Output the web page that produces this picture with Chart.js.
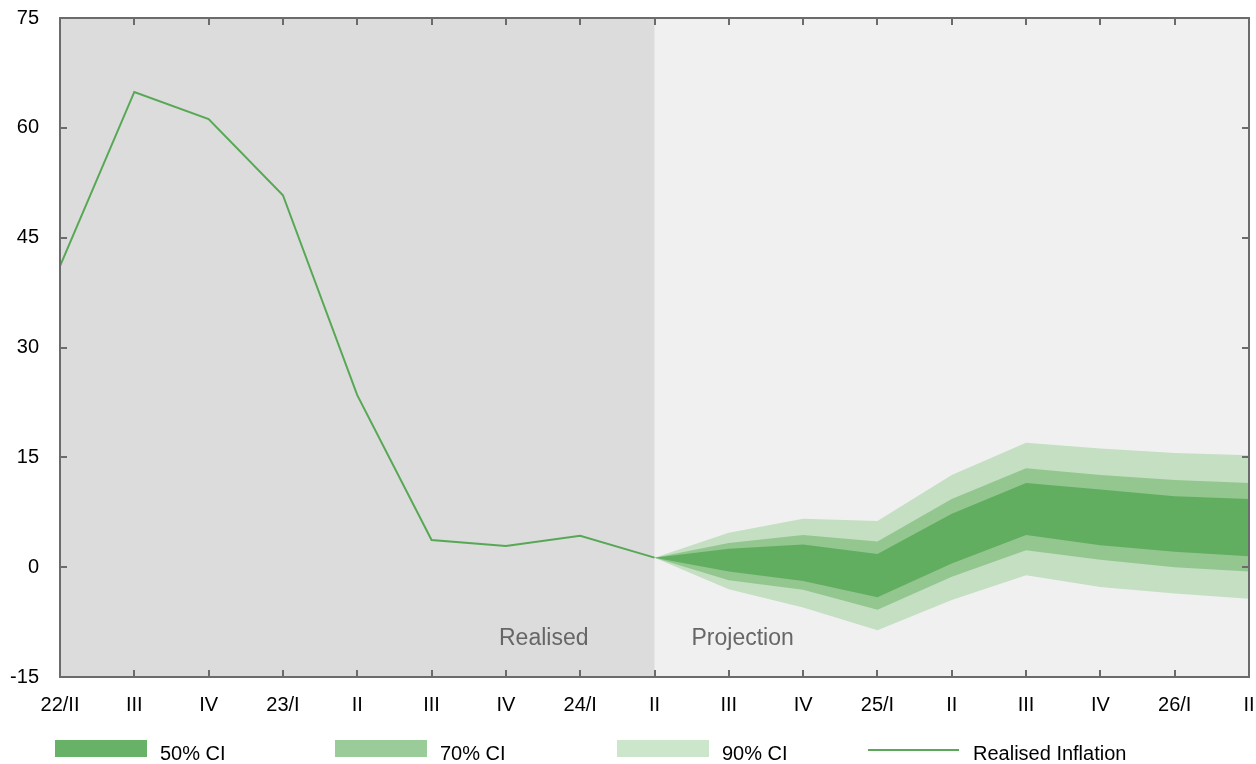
<!DOCTYPE html>
<html>
<head>
<meta charset="utf-8">
<script src="https://cdn.jsdelivr.net/npm/chart.js@4/dist/chart.umd.min.js"></script>
<style>
  html, body { margin: 0; padding: 0; background: #ffffff; }
  #wrap { position: relative; width: 1256px; height: 764px; font-family: "Liberation Sans", Arial, sans-serif; }
  canvas { position: absolute; left: 0; top: 0; }
  .lg { position: absolute; top: 740px; height: 17px; }
  .lt { position: absolute; top: 741px; font-size: 20px; line-height: 24px; color: #000; white-space: nowrap; }
</style>
</head>
<body>
<div id="wrap">
  <canvas id="c" width="1256" height="764"></canvas>
  <div class="lg" style="left:55px;width:92px;background:#67b267;"></div>
  <div class="lt" style="left:160px;">50% CI</div>
  <div class="lg" style="left:335px;width:92px;background:#99cc99;"></div>
  <div class="lt" style="left:440px;">70% CI</div>
  <div class="lg" style="left:617px;width:92px;background:#cce6cc;"></div>
  <div class="lt" style="left:722px;">90% CI</div>
  <div class="lg" style="left:868px;width:91px;top:749px;height:2px;background:#5aa858;"></div>
  <div class="lt" style="left:973px;">Realised Inflation</div>
</div>
<script>
const categories = ["22/II","III","IV","23/I","II","III","IV","24/I","II","III","IV","25/I","II","III","IV","26/I","II"];
const yTicks = [-15, 0, 15, 30, 45, 60, 75];
const realised = [41.1, 64.9, 61.2, 50.8, 23.5, 3.7, 2.9, 4.3, 1.3, null, null, null, null, null, null, null, null];
const upper90 = [null, null, null, null, null, null, null, null, 1.3, 4.7, 6.6, 6.3, 12.6, 17.0, 16.2, 15.6, 15.3];
const upper70 = [null, null, null, null, null, null, null, null, 1.3, 3.3, 4.4, 3.5, 9.3, 13.5, 12.6, 11.9, 11.5];
const upper50 = [null, null, null, null, null, null, null, null, 1.3, 2.5, 3.1, 1.8, 7.3, 11.5, 10.6, 9.7, 9.3];
const lower50 = [null, null, null, null, null, null, null, null, 1.3, -0.6, -1.9, -4.1, 0.5, 4.4, 3.0, 2.1, 1.5];
const lower70 = [null, null, null, null, null, null, null, null, 1.3, -1.8, -3.1, -5.8, -1.3, 2.3, 1.0, 0.0, -0.6];
const lower90 = [null, null, null, null, null, null, null, null, 1.3, -3.0, -5.5, -8.6, -4.5, -1.1, -2.7, -3.6, -4.3];
const splitIndex = 8;

const FONT = "'Liberation Sans', Arial, sans-serif";

const framePlugin = {
  id: 'frame',
  beforeDatasetsDraw(chart) {
    const {ctx, chartArea: a, scales: {x}} = chart;
    const sx = x.getPixelForValue(splitIndex);
    ctx.save();
    ctx.fillStyle = '#f0f0f0';
    ctx.fillRect(a.left, a.top, a.right - a.left, a.bottom - a.top);
    ctx.fillStyle = '#dcdcdc';
    ctx.fillRect(a.left, a.top, sx - a.left, a.bottom - a.top);
    ctx.fillStyle = '#666666';
    ctx.font = "23px " + FONT;
    ctx.textBaseline = 'middle';
    ctx.textAlign = 'right';
    ctx.fillText('Realised', sx - 66, a.bottom - 38);
    ctx.textAlign = 'left';
    ctx.fillText('Projection', sx + 37, a.bottom - 38);
    ctx.restore();
  },
  afterDatasetsDraw(chart) {
    const {ctx, chartArea: a, scales: {x, y}} = chart;
    ctx.save();
    ctx.strokeStyle = '#6b6b6b';
    ctx.lineWidth = 2;
    ctx.beginPath();
    x.ticks.forEach((t, i) => {
      const px = Math.round(x.getPixelForTick(i));
      ctx.moveTo(px, a.bottom); ctx.lineTo(px, a.bottom - 7);
      ctx.moveTo(px, a.top); ctx.lineTo(px, a.top + 7);
    });
    y.ticks.forEach((t, i) => {
      const py = Math.round(y.getPixelForTick(i));
      ctx.moveTo(a.left, py); ctx.lineTo(a.left + 7, py);
      ctx.moveTo(a.right, py); ctx.lineTo(a.right - 7, py);
    });
    ctx.stroke();
    ctx.strokeRect(a.left, a.top, a.right - a.left, a.bottom - a.top);
    ctx.restore();
  }
};

const band = (data, color, fill, order) => ({
  data, backgroundColor: color, borderWidth: 0, borderColor: 'rgba(0,0,0,0)',
  pointRadius: 0, pointHoverRadius: 0, fill, order, tension: 0
});

new Chart(document.getElementById('c'), {
  type: 'line',
  data: {
    labels: categories,
    datasets: [
      { label: 'Realised Inflation', data: realised, borderColor: '#57a855', borderWidth: 2, pointRadius: 0, fill: false, order: 0, tension: 0 },
      band(upper90, '#c4dfc2', '+1', 3),
      band(lower90, '#c4dfc2', false, 3),
      band(upper70, '#93c78f', '+1', 2),
      band(lower70, '#93c78f', false, 2),
      band(upper50, '#62ae60', '+1', 1),
      band(lower50, '#62ae60', false, 1)
    ]
  },
  options: {
    responsive: false,
    animation: false,
    events: [],
    layout: { padding: { left: 0, right: 7, top: 18, bottom: 37 } },
    plugins: { legend: { display: false }, tooltip: { enabled: false } },
    scales: {
      x: {
        type: 'category',
        offset: false,
        grid: { display: false, drawTicks: false },
        border: { display: false },
        ticks: { autoSkip: false, maxRotation: 0, minRotation: 0, padding: 16, color: '#000', font: { family: FONT, size: 20 } },
        afterFit(s) { s.height = 50; s.paddingLeft = 0; s.paddingRight = 0; }
      },
      y: {
        min: -15, max: 75,
        afterBuildTicks(s) { s.ticks = yTicks.map(v => ({ value: v })); },
        grid: { display: false, drawTicks: false },
        border: { display: false },
        ticks: { padding: 21, color: '#000', font: { family: FONT, size: 20 } },
        afterFit(s) { s.width = 60; s.paddingTop = 0; s.paddingBottom = 0; }
      }
    }
  },
  plugins: [framePlugin]
});
</script>
</body>
</html>
